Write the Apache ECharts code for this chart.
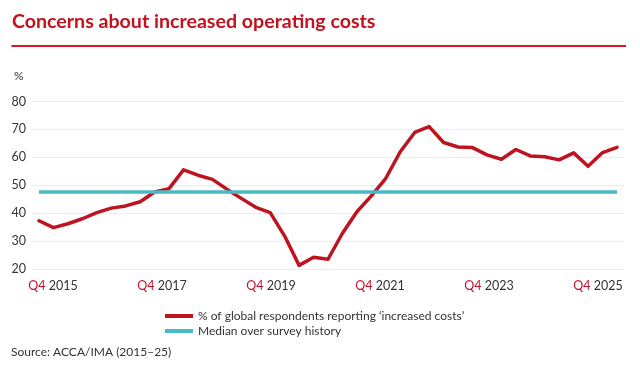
<!DOCTYPE html>
<html>
<head>
<meta charset="utf-8">
<script src="https://cdn.jsdelivr.net/npm/echarts@6/dist/echarts.min.js"></script>
<style>html,body{margin:0;padding:0;background:#fff}#c{width:640px;height:368px}</style>
</head>
<body>
<div id="c"></div>
<script>
var categories = [
  'Q4 2015',
  'Q1 2016','Q2 2016','Q3 2016','Q4 2016',
  'Q1 2017','Q2 2017','Q3 2017','Q4 2017',
  'Q1 2018','Q2 2018','Q3 2018','Q4 2018',
  'Q1 2019','Q2 2019','Q3 2019','Q4 2019',
  'Q1 2020','Q2 2020','Q3 2020','Q4 2020',
  'Q1 2021','Q2 2021','Q3 2021','Q4 2021',
  'Q1 2022','Q2 2022','Q3 2022','Q4 2022',
  'Q1 2023','Q2 2023','Q3 2023','Q4 2023',
  'Q1 2024','Q2 2024','Q3 2024','Q4 2024',
  'Q1 2025','Q2 2025','Q3 2025','Q4 2025'
];
var increasedCosts = [
  37.3,
  34.8, 36.2, 38.0, 40.2,
  41.8, 42.6, 44.1, 47.6,
  48.8, 55.5, 53.6, 52.1,
  48.6, 45.3, 42.1, 40.2,
  31.8, 21.3, 24.2, 23.5,
  32.8, 40.5, 46.2, 52.5,
  62.0, 68.9, 71.0, 65.3,
  63.7, 63.5, 60.9, 59.3,
  62.8, 60.5, 60.2, 59.1,
  61.6, 56.8, 61.7, 63.6
];
var medianValue = 47.7;
var xTickLabels = ['Q4 2015', 'Q4 2017', 'Q4 2019', 'Q4 2021', 'Q4 2023', 'Q4 2025'];
var yTicks = { min: 20, max: 80, interval: 10 };
var seriesNames = ['% of global respondents reporting \u2018increased costs\u2019', 'Median over survey history'];

var RED = '#bd1420';
var TEAL = '#48bac4';
var FONT = 'Lato';

var chart = echarts.init(document.getElementById('c'), null, { renderer: 'canvas' });
var top_ = 101.5, bottom_ = 99;
chart.setOption({
  animation: false,
  backgroundColor: '#fff',
  textStyle: { fontFamily: FONT },
  title: {
    text: 'Concerns about increased operating costs',
    left: 7, top: 7,
    textStyle: { fontFamily: FONT, fontSize: 19.6, fontWeight: 'bold', color: '#c3111d' }
  },
  graphic: [
    { type: 'line', shape: { x1: 11.5, y1: 46, x2: 626, y2: 46 }, style: { stroke: '#d01a2b', lineWidth: 2 } },
    { type: 'text', left: 14, top: 70, style: { text: '%', fontFamily: FONT, fontSize: 12, fill: '#333' } },
    { type: 'text', left: 11, top: 346, style: { text: 'Source: ACCA/IMA (2015\u201325)', fontFamily: FONT, fontSize: 12, fill: '#333' } }
  ],
  legend: {
    orient: 'vertical',
    left: 160, top: 304,
    itemWidth: 28, itemHeight: 4, itemGap: 1,
    icon: 'rect',
    data: seriesNames,
    textStyle: { fontFamily: FONT, fontSize: 12, color: '#333', lineHeight: 14 }
  },
  grid: [
    { left: 39, right: 23, top: top_, bottom: bottom_ },
    { left: 32, right: 16, top: top_, bottom: bottom_ },
    { left: 53, right: 42, top: top_, bottom: bottom_ }
  ],
  xAxis: [
    { gridIndex: 0, type: 'category', data: categories, boundaryGap: false,
      axisLine: { show: false }, axisTick: { show: false }, axisLabel: { show: false }, splitLine: { show: false } },
    { gridIndex: 1, type: 'category', data: categories, boundaryGap: false, show: false },
    { gridIndex: 2, type: 'category', data: xTickLabels, boundaryGap: false,
      axisLine: { show: false }, axisTick: { show: false }, splitLine: { show: false },
      axisLabel: {
        interval: 0, margin: 10,
        formatter: function (v) { var p = v.split(' '); return '{q|' + p[0] + '} {y|' + p[1] + '}'; },
        rich: {
          q: { color: '#c8102e', fontFamily: FONT, fontSize: 12.5 },
          y: { color: '#333', fontFamily: FONT, fontSize: 12.5 }
        }
      } }
  ],
  yAxis: [
    { gridIndex: 0, type: 'value', min: yTicks.min, max: yTicks.max, interval: yTicks.interval, show: false },
    { gridIndex: 1, type: 'value', min: yTicks.min, max: yTicks.max, interval: yTicks.interval,
      axisLine: { show: false }, axisTick: { show: false },
      axisLabel: { margin: 6, color: '#333', fontFamily: FONT, fontSize: 12.5 },
      splitLine: { lineStyle: { color: '#ededed', width: 1 } } },
    { gridIndex: 2, type: 'value', min: yTicks.min, max: yTicks.max, show: false }
  ],
  series: [
    {
      name: seriesNames[0], type: 'line', xAxisIndex: 0, yAxisIndex: 0,
      data: increasedCosts, color: RED, symbol: 'none', smooth: false,
      lineStyle: { color: RED, width: 3.5, join: 'round', cap: 'round' }, z: 3
    },
    {
      name: seriesNames[1], type: 'line', xAxisIndex: 0, yAxisIndex: 0,
      data: [], color: TEAL, symbol: 'none',
      lineStyle: { color: TEAL, width: 3.5 },
      markLine: {
        silent: true, symbol: ['none', 'none'], label: { show: false },
        lineStyle: { color: TEAL, width: 3.5, type: 'solid' },
        data: [{ yAxis: medianValue }]
      }, z: 2
    }
  ]
});
</script>
</body>
</html>
